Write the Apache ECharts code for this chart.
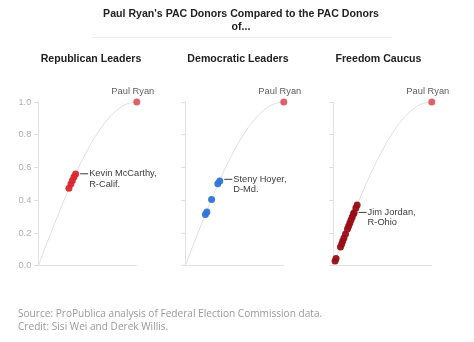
<!DOCTYPE html>
<html>
<head>
<meta charset="utf-8">
<script src="https://cdn.jsdelivr.net/npm/echarts@6/dist/echarts.min.js"></script>
<style>html,body{margin:0;padding:0;background:#fff}#c{width:474px;height:342px}</style>
</head>
<body>
<div id="c"></div>
<script>
// ---- data ----
const panelTitles = ['Republican Leaders', 'Democratic Leaders', 'Freedom Caucus'];
const yTickValues = [0, 0.2, 0.4, 0.6, 0.8, 1.0];
// reference curve
const curveX = [0, 0.1, 0.2, 0.3, 0.4, 0.5, 0.6, 0.7, 0.8, 0.9, 1.0];
const curveY = [0, 0.156, 0.309, 0.454, 0.588, 0.707, 0.809, 0.891, 0.951, 0.988, 1.0];
// Paul Ryan
const ryanX = [1.0];
const ryanY = [1.0];
const ryanName = 'Paul Ryan';
// Republican leaders
const repX = [0.311, 0.331, 0.346, 0.362, 0.379];
const repY = [0.473, 0.499, 0.520, 0.542, 0.560];
const repLabel = ['Kevin McCarthy,', 'R-Calif.'];
const repLabelIdx = 4;
// Democratic leaders
const demX = [0.204, 0.219, 0.267, 0.330, 0.350];
const demY = [0.313, 0.328, 0.404, 0.500, 0.517];
const demLabel = ['Steny Hoyer,', 'D-Md.'];
const demLabelIdx = 4;
// Freedom Caucus
const fcX = [0.018, 0.028, 0.073, 0.085, 0.096, 0.108, 0.124, 0.144, 0.156, 0.168, 0.180, 0.192, 0.205, 0.211, 0.229, 0.242];
const fcY = [0.029, 0.044, 0.114, 0.133, 0.151, 0.169, 0.194, 0.224, 0.243, 0.261, 0.279, 0.297, 0.316, 0.324, 0.352, 0.371];
const fcLabel = ['Jim Jordan,', 'R-Ohio'];
const fcLabelIdx = 13;

const titleText = "Paul Ryan's PAC Donors Compared to the PAC Donors\nof...";
const footerText = 'Source: ProPublica analysis of Federal Election Commission data.\nCredit: Sisi Wei and Derek Willis.';

// ---- chart ----
const FONT = '"Liberation Sans", Arial, Helvetica, sans-serif';
const zip = (xs, ys) => xs.map((x, i) => [x, ys[i]]);
const gridLefts = [38.3, 185.3, 333.3];
const panelCenters = [86, 233, 373.5];
const dotColors = ['#d8282e', '#2e74d6', '#9a0e16'];
const ryanColor = '#d83a44';

const panels = [
  { x: repX, y: repY, lab: repLabel, idx: repLabelIdx, off: [0, 5] },
  { x: demX, y: demY, lab: demLabel, idx: demLabelIdx, off: [0, 3.5] },
  { x: fcX, y: fcY, lab: fcLabel, idx: fcLabelIdx, off: [0, 5] }
];

const grids = [], xAxes = [], yAxes = [], series = [];
panels.forEach((p, i) => {
  grids.push({ left: gridLefts[i], top: 102, width: 98.5, height: 163.7 });
  xAxes.push({
    gridIndex: i, type: 'value', min: 0, max: 1,
    axisLine: { show: true, lineStyle: { color: '#e3e3e3', width: 1 } },
    axisTick: { show: false }, axisLabel: { show: false }, splitLine: { show: false }
  });
  yAxes.push({
    gridIndex: i, type: 'value', min: 0, max: 1, interval: 0.2,
    axisLine: { show: true, lineStyle: { color: '#e3e3e3', width: 1 } },
    axisTick: { show: true, length: 4, lineStyle: { color: '#dcdcdc' } },
    axisLabel: {
      show: i === 0, color: '#b0b0b0', fontSize: 9.3, fontFamily: FONT, margin: 7,
      formatter: v => yTickValues.some(t => Math.abs(t - v) < 1e-9) ? v.toFixed(1) : ''
    },
    splitLine: { show: false }
  });
  series.push({
    type: 'line', xAxisIndex: i, yAxisIndex: i, smooth: true, showSymbol: false, silent: true,
    data: zip(curveX, curveY), lineStyle: { color: '#dedede', width: 1 }, z: 1
  });
  const data = zip(p.x, p.y).map((d, k) => {
    if (k !== p.idx) return d;
    return {
      value: d,
      label: {
        show: true, position: 'right', distance: 1, offset: p.off,
        formatter: '{b|}{t|' + p.lab[0] + '}\n{s|}{t|' + p.lab[1] + '}',
        rich: {
          b: { width: 8, height: 1, backgroundColor: '#333' },
          s: { width: 8, height: 1 },
          t: { color: '#333', fontSize: 9.3, fontFamily: FONT, lineHeight: 10.5, padding: [0, 0, 0, 1] }
        }
      }
    };
  });
  series.push({
    type: 'scatter', xAxisIndex: i, yAxisIndex: i, symbolSize: 7,
    itemStyle: { color: dotColors[i], opacity: 0.95 }, data: data, z: 3
  });
  series.push({
    type: 'scatter', xAxisIndex: i, yAxisIndex: i, symbolSize: 7,
    itemStyle: { color: ryanColor }, data: zip(ryanX, ryanY), z: 3,
    label: {
      show: true, position: 'top', distance: 3, offset: [-4, 0],
      formatter: ryanName, color: '#333', fontSize: 9.3, fontFamily: FONT
    }
  });
});

const titles = [{
  text: titleText, left: 236, top: 2, textAlign: 'center',
  textStyle: { fontSize: 10.6, fontWeight: 'bold', color: '#222', fontFamily: FONT, lineHeight: 13.4 }
}];
panelTitles.forEach((t, i) => titles.push({
  text: t, left: panelCenters[i], top: 48.5, textAlign: 'center',
  textStyle: { fontSize: 10.6, fontWeight: 'bold', color: '#222', fontFamily: FONT }
}));
titles.push({
  text: footerText, left: 13, top: 303,
  textStyle: { fontSize: 10.1, fontWeight: 'normal', color: '#9a9a9a', fontFamily: '"Open Sans", sans-serif', lineHeight: 13 }
});

const chart = echarts.init(document.getElementById('c'), null, { renderer: 'canvas' });
chart.setOption({
  animation: false,
  backgroundColor: '#fff',
  title: titles,
  grid: grids, xAxis: xAxes, yAxis: yAxes, series: series,
  graphic: [{
    type: 'line', shape: { x1: 92, y1: 37.5, x2: 392, y2: 37.5 },
    style: { stroke: '#ececec', lineWidth: 1 }, silent: true
  }]
});
</script>
</body>
</html>
